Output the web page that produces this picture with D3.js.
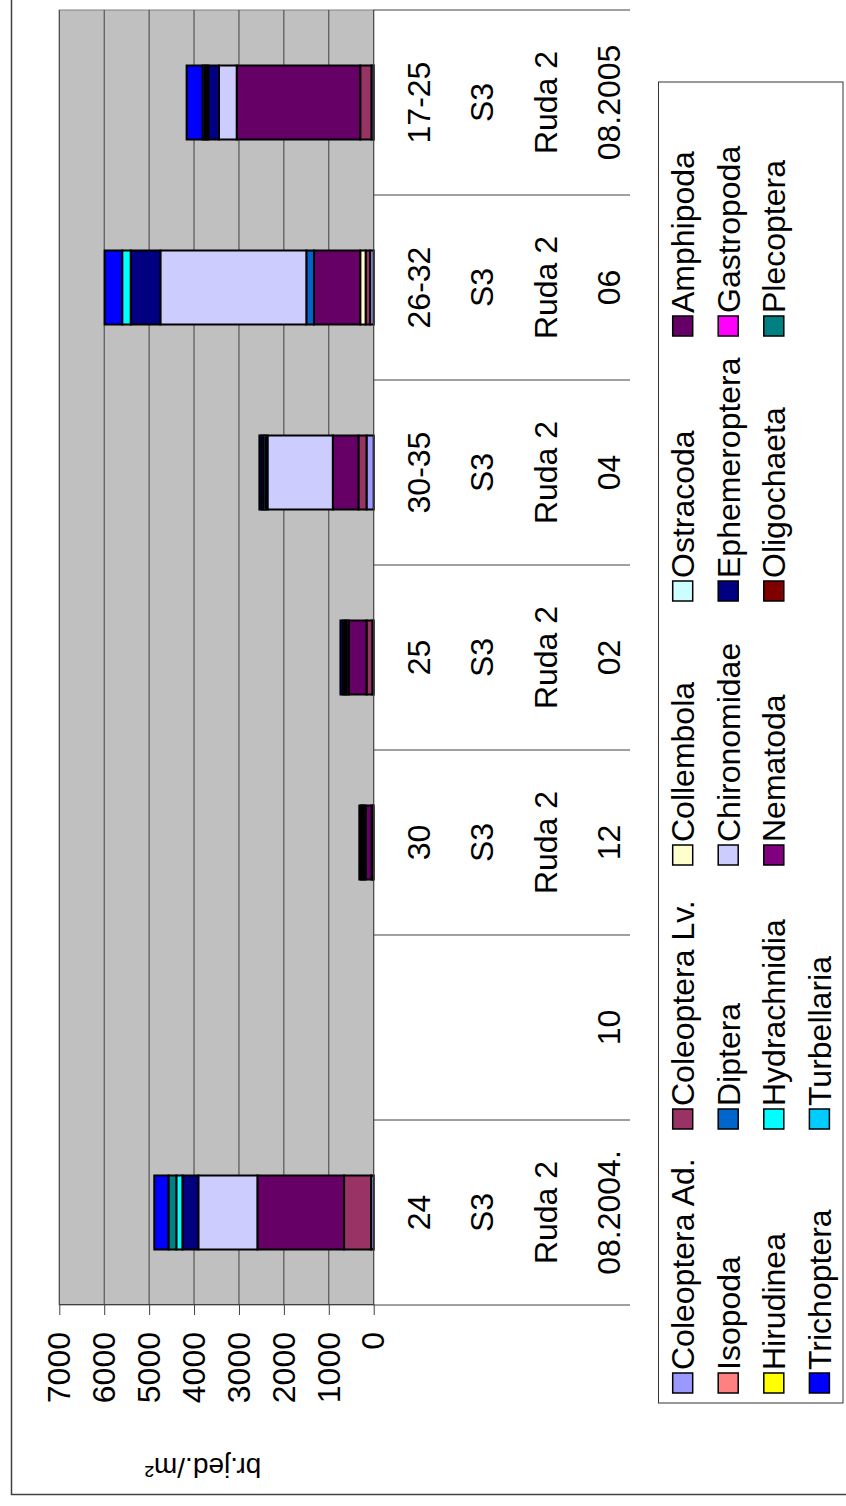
<!DOCTYPE html>
<html>
<head>
<meta charset="utf-8">
<script src="https://cdn.jsdelivr.net/npm/d3@7"></script>
<style>
  body { margin: 0; background: #fff; }
  text { font-family: "Liberation Sans", Arial, sans-serif; fill: #000; }
</style>
</head>
<body>
<div id="chart"></div>
<script>
// category labels, 4 levels (nearest the axis first)
const depth = ['24', '', '30', '25', '30-35', '26-32', '17-25'];
const station = ['S3', '', 'S3', 'S3', 'S3', 'S3', 'S3'];
const site = ['Ruda 2', '', 'Ruda 2', 'Ruda 2', 'Ruda 2', 'Ruda 2', 'Ruda 2'];
const month = ['08.2004.', '10', '12', '02', '04', '06', '08.2005'];

const taxa = ['Coleoptera Ad.', 'Coleoptera Lv.', 'Collembola', 'Ostracoda', 'Amphipoda',
    'Isopoda', 'Diptera', 'Chironomidae', 'Ephemeroptera', 'Gastropoda',
    'Hirudinea', 'Hydrachnidia', 'Nematoda', 'Oligochaeta', 'Plecoptera',
    'Trichoptera', 'Turbellaria'];
const colors = ['#9999FF', '#993366', '#FFFFCC', '#CCFFFF', '#660066',
    '#FF8080', '#0066CC', '#CCCCFF', '#000080', '#FF00FF',
    '#FFFF00', '#00FFFF', '#800080', '#800000', '#008080',
    '#0000FF', '#00CCFF'];

// br.jed./m2, one row per taxon, one column per sample
const counts = [
    [60, 0, 20, 30, 160, 80, 50],         // Coleoptera Ad.
    [600, 0, 25, 130, 180, 100, 250],     // Coleoptera Lv.
    [0, 0, 0, 0, 0, 120, 0],              // Collembola
    [0, 0, 0, 0, 0, 0, 0],                // Ostracoda
    [1930, 0, 135, 390, 570, 1030, 2750], // Amphipoda
    [0, 0, 0, 0, 0, 0, 0],                // Isopoda
    [0, 0, 0, 0, 0, 170, 0],              // Diptera
    [1315, 0, 40, 50, 1455, 3250, 395],   // Chironomidae
    [355, 0, 30, 40, 45, 660, 240],       // Ephemeroptera
    [0, 0, 0, 0, 0, 0, 0],                // Gastropoda
    [0, 0, 0, 0, 0, 0, 0],                // Hirudinea
    [135, 0, 0, 0, 45, 190, 40],          // Hydrachnidia
    [0, 0, 35, 50, 45, 0, 40],            // Nematoda
    [0, 0, 0, 0, 0, 0, 0],                // Oligochaeta
    [175, 0, 0, 0, 0, 0, 45],             // Plecoptera
    [315, 0, 35, 50, 45, 390, 355],       // Trichoptera
    [0, 0, 0, 0, 0, 0, 0]                 // Turbellaria
];

const yTicks = [0, 1000, 2000, 3000, 4000, 5000, 6000, 7000];
const yTitle = 'br.jed./m²';

// the chart is drawn in its own landscape frame and then turned a quarter to the left
const pageW = 846;
const pageH = 1506;

const plotLeft = 201;
const plotRight = 1496;
const plotTop = 59.3;
const plotBottom = 373.7;

const svg = d3.select('#chart')
    .append('svg')
    .attr('width', pageW)
    .attr('height', pageH);

svg.append('rect').attr('width', pageW).attr('height', pageH).attr('fill', '#fff');

const g = svg.append('g')
    .attr('transform', `translate(0,${pageH}) rotate(-90)`);

// chart border
g.append('rect')
    .attr('x', 11.5).attr('y', 11.5)
    .attr('width', 1510).attr('height', 850)
    .attr('fill', 'none')
    .attr('stroke', '#404040')
    .attr('stroke-width', 1.5);

const x = d3.scaleBand()
    .domain(d3.range(month.length))
    .range([plotLeft, plotRight])
    .padding(0);

const y = d3.scaleLinear()
    .domain([0, 7000])
    .range([plotBottom, plotTop]);

// plot area
g.append('rect')
    .attr('x', plotLeft).attr('y', plotTop)
    .attr('width', plotRight - plotLeft).attr('height', plotBottom - plotTop)
    .attr('fill', '#C0C0C0')
    .attr('stroke', '#808080')
    .attr('stroke-width', 1);

g.append('g')
    .selectAll('line')
    .data(yTicks.slice(1))
    .enter()
    .append('line')
    .attr('x1', plotLeft).attr('x2', plotRight)
    .attr('y1', d => y(d)).attr('y2', d => y(d))
    .attr('stroke', '#404040')
    .attr('stroke-width', 1);

// stacked bars
const rows = month.map((m, i) => {
    const r = {};
    taxa.forEach((t, k) => { r[t] = counts[k][i]; });
    return r;
});
const stacked = d3.stack().keys(taxa)(rows);

const barW = x.bandwidth() * 0.4;

g.append('g')
    .selectAll('g')
    .data(stacked)
    .enter()
    .append('g')
    .attr('fill', (d, k) => colors[k])
    .selectAll('rect')
    .data(d => d.map((v, i) => ({ v, i })).filter(e => e.v[1] > e.v[0]))
    .enter()
    .append('rect')
    .attr('x', e => x(e.i) + (x.bandwidth() - barW) / 2)
    .attr('width', barW)
    .attr('y', e => y(e.v[1]))
    .attr('height', e => y(e.v[0]) - y(e.v[1]))
    .attr('stroke', '#000')
    .attr('stroke-width', 2);

// value axis
const yAxis = g.append('g')
    .attr('transform', `translate(${plotLeft},0)`)
    .call(d3.axisLeft(y)
        .tickValues(yTicks)
        .tickFormat(d3.format('d'))
        .tickSize(10)
        .tickSizeOuter(0)
        .tickPadding(17));
yAxis.select('.domain').attr('stroke', '#404040');
yAxis.selectAll('.tick line').attr('stroke', '#404040');
yAxis.selectAll('.tick text')
    .attr('font-size', 32)
    .attr('font-family', '"Liberation Sans", Arial, sans-serif');

// category axis
g.append('line')
    .attr('x1', plotLeft).attr('x2', plotRight)
    .attr('y1', plotBottom).attr('y2', plotBottom)
    .attr('stroke', '#404040');

const bounds = d3.range(month.length + 1).map(i => plotLeft + i * x.step());
g.append('g')
    .selectAll('line')
    .data(bounds)
    .enter()
    .append('line')
    .attr('x1', d => d).attr('x2', d => d)
    .attr('y1', plotBottom).attr('y2', 630)
    .attr('stroke', '#404040')
    .attr('stroke-width', 1);

const levels = [
    { labels: depth, base: 430 },
    { labels: station, base: 493 },
    { labels: site, base: 556.5 },
    { labels: month, base: 620 }
];
levels.forEach(lv => {
    g.append('g')
        .selectAll('text')
        .data(lv.labels)
        .enter()
        .append('text')
        .attr('x', (d, i) => x(i) + x.bandwidth() / 2)
        .attr('y', lv.base)
        .attr('text-anchor', 'middle')
        .attr('font-size', 32)
        .text(d => d);
});

// axis title
g.append('text')
    .attr('transform', 'translate(48,203) rotate(-90)')
    .attr('text-anchor', 'middle')
    .attr('font-size', 28)
    .text(yTitle);

// legend
g.append('rect')
    .attr('x', 103).attr('y', 658.5)
    .attr('width', 1321).attr('height', 184.5)
    .attr('fill', '#fff')
    .attr('stroke', '#333')
    .attr('stroke-width', 1);

const legendCols = [113, 377, 641, 905, 1170];
const legendRows = [682.7, 728.2, 773.8, 819.4];

const items = g.append('g')
    .selectAll('g')
    .data(taxa)
    .enter()
    .append('g')
    .attr('transform', (d, k) => `translate(${legendCols[k % 5]},${legendRows[Math.floor(k / 5)]})`);

items.append('rect')
    .attr('x', 0).attr('y', -10)
    .attr('width', 20).attr('height', 20)
    .attr('fill', (d, k) => colors[k])
    .attr('stroke', '#000')
    .attr('stroke-width', 1.5);

items.append('text')
    .attr('x', 23)
    .attr('y', 11.5)
    .attr('font-size', 32)
    .text(d => d);
</script>
</body>
</html>
